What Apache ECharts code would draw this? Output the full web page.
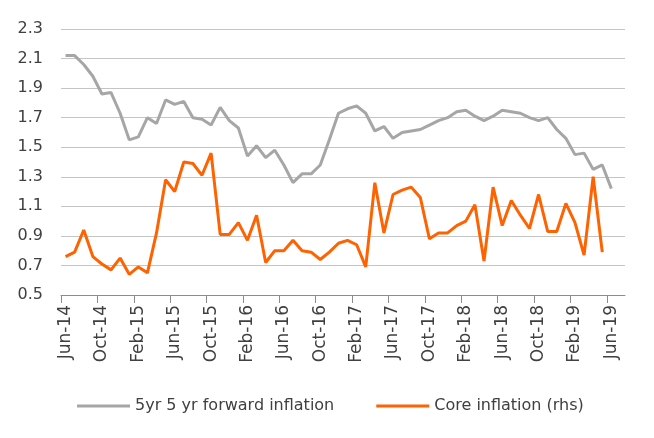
<!DOCTYPE html>
<html>
<head>
<meta charset="utf-8">
<script src="https://cdn.jsdelivr.net/npm/echarts@6/dist/echarts.min.js"></script>
<style>
html,body{margin:0;padding:0;background:#fff;}
#chart{width:654px;height:438px;}
</style>
</head>
<body>
<div id="chart"></div>
<script>
var categories = [
 'Jun-14','Jul-14','Aug-14','Sep-14','Oct-14','Nov-14','Dec-14',
 'Jan-15','Feb-15','Mar-15','Apr-15','May-15','Jun-15','Jul-15','Aug-15','Sep-15','Oct-15','Nov-15','Dec-15',
 'Jan-16','Feb-16','Mar-16','Apr-16','May-16','Jun-16','Jul-16','Aug-16','Sep-16','Oct-16','Nov-16','Dec-16',
 'Jan-17','Feb-17','Mar-17','Apr-17','May-17','Jun-17','Jul-17','Aug-17','Sep-17','Oct-17','Nov-17','Dec-17',
 'Jan-18','Feb-18','Mar-18','Apr-18','May-18','Jun-18','Jul-18','Aug-18','Sep-18','Oct-18','Nov-18','Dec-18',
 'Jan-19','Feb-19','Mar-19','Apr-19','May-19','Jun-19','Jul-19'
];
var forwardInflation = [
 2.12,2.12,2.06,1.98,1.86,1.87,1.73,
 1.55,1.57,1.70,1.66,1.82,1.79,1.81,1.70,1.69,1.65,1.77,1.68,
 1.63,1.44,1.51,1.43,1.48,1.38,1.26,1.32,1.32,1.38,1.55,1.73,
 1.76,1.78,1.73,1.61,1.64,1.56,1.60,1.61,1.62,1.65,1.68,1.70,
 1.74,1.75,1.71,1.68,1.71,1.75,1.74,1.73,1.70,1.68,1.70,1.62,
 1.56,1.45,1.46,1.35,1.38,1.22,null
];
var coreInflation = [
 0.76,0.79,0.94,0.76,0.71,0.67,0.75,
 0.64,0.69,0.65,0.92,1.28,1.20,1.40,1.39,1.31,1.46,0.91,0.91,
 0.99,0.87,1.04,0.72,0.80,0.80,0.87,0.80,0.79,0.74,0.79,0.85,
 0.87,0.84,0.69,1.26,0.92,1.18,1.21,1.23,1.16,0.88,0.92,0.92,
 0.97,1.00,1.11,0.73,1.23,0.97,1.14,1.04,0.95,1.18,0.93,0.93,
 1.12,0.99,0.77,1.30,0.79,null,null
];
var seriesNames = ['5yr 5 yr forward inflation','Core inflation (rhs)'];
// month boundaries (one more than categories) used only to place tick marks
var tickBoundaries = categories.concat(['']);

var chart = echarts.init(document.getElementById('chart'));
var font = 'DejaVu Sans';
chart.setOption({
  animation: false,
  textStyle: {fontFamily: font},
  grid: {left: 61, right: 29, top: 29, bottom: 143, containLabel: false},
  legend: {
    top: 393, left: 72,
    icon: 'rect', itemWidth: 53, itemHeight: 3, itemGap: 42,
    textStyle: {fontSize: 16, color: '#404040', fontFamily: font},
    data: seriesNames
  },
  xAxis: [{
    type: 'category',
    data: categories,
    boundaryGap: true,
    axisLine: {lineStyle: {color: '#8c8c8c', width: 1}},
    axisTick: {show: false},
    axisLabel: {interval: 3, rotate: 90, margin: 10, fontSize: 17, color: '#404040', fontFamily: font},
    splitLine: {show: false}
  }, {
    type: 'category',
    data: tickBoundaries,
    boundaryGap: false,
    position: 'bottom',
    axisLine: {show: false},
    axisTick: {show: true, interval: 3, length: 8, lineStyle: {color: '#8c8c8c'}},
    axisLabel: {show: false, interval: 3, showMaxLabel: false},
    splitLine: {show: false}
  }],
  yAxis: {
    type: 'value',
    min: 0.5, max: 2.3, interval: 0.2,
    axisLine: {show: false},
    axisTick: {show: false},
    axisLabel: {margin: 18, fontSize: 16, color: '#404040', fontFamily: font,
      formatter: function(v){ return v.toFixed(1); }},
    splitLine: {lineStyle: {color: '#c4c4c4', width: 1}}
  },
  series: [
    {name: seriesNames[0], type: 'line', data: forwardInflation, symbol: 'none', xAxisIndex: 0,
     lineStyle: {color: '#a6a6a6', width: 3}, itemStyle: {color: '#a6a6a6'}},
    {name: seriesNames[1], type: 'line', data: coreInflation, symbol: 'none', xAxisIndex: 0,
     lineStyle: {color: '#ff6200', width: 3}, itemStyle: {color: '#ff6200'}}
  ]
});
</script>
</body>
</html>
